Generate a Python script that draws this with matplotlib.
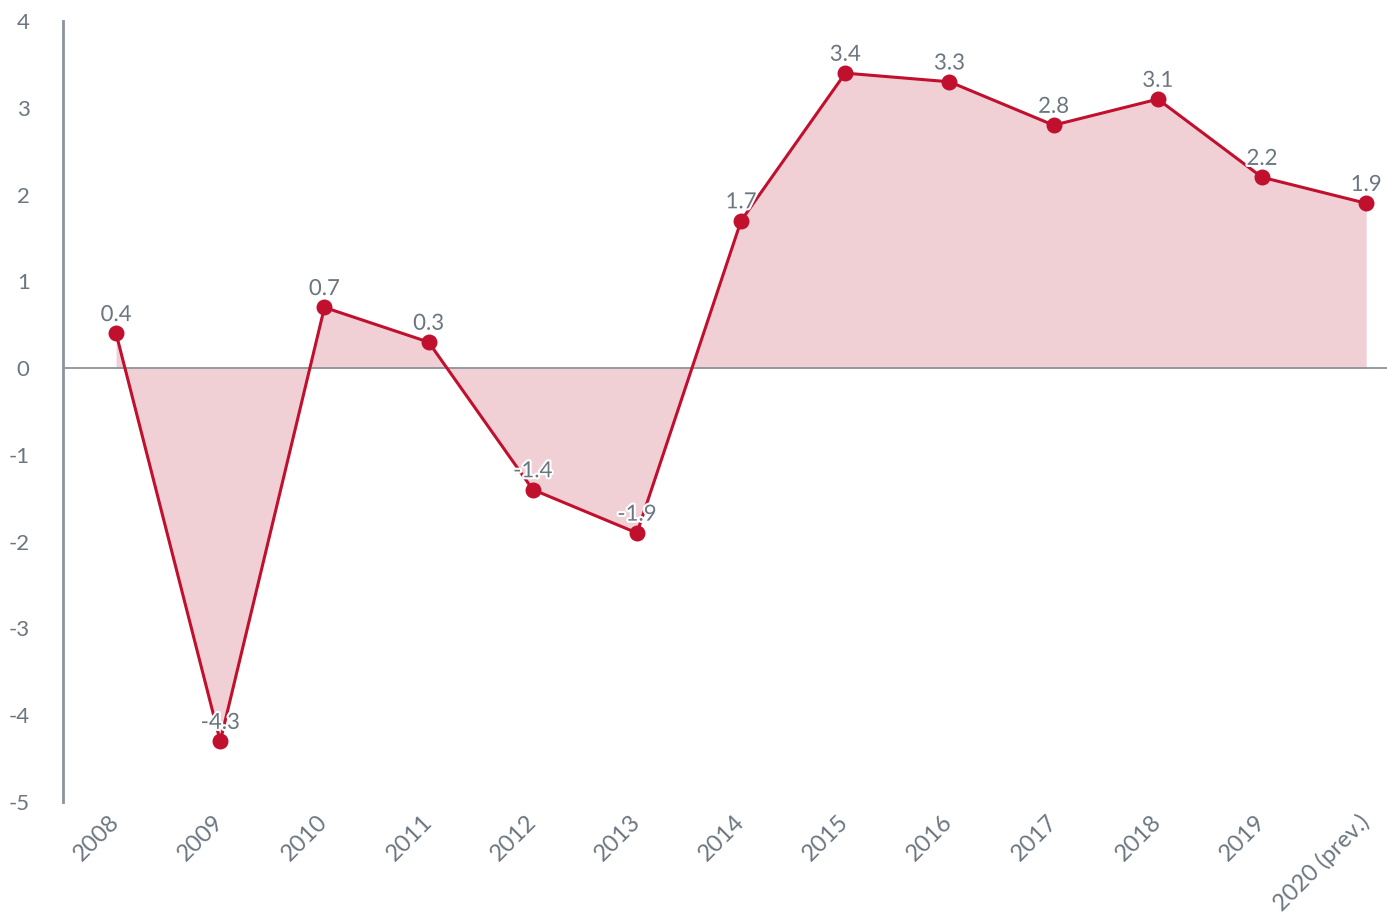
import matplotlib
matplotlib.use("Agg")
import matplotlib.pyplot as plt
import matplotlib.patheffects as pe
import numpy as np

years = ["2008", "2009", "2010", "2011", "2012", "2013", "2014",
         "2015", "2016", "2017", "2018", "2019", "2020 (prev.)"]
values = [0.4, -4.3, 0.7, 0.3, -1.4, -1.9, 1.7, 3.4, 3.3, 2.8, 3.1, 2.2, 1.9]
yticks = [-5, -4, -3, -2, -1, 0, 1, 2, 3, 4]

plt.rcParams['font.family'] = ['Lato', 'DejaVu Sans']

line_color = "#c0102e"
fill_color = "#f0cfd5"
text_color = "#6c7680"
axis_color = "#8c939b"

fig = plt.figure(figsize=(13.87, 9.16), dpi=100)
ax = fig.add_axes([0.0454, 0.1245, 0.9546, 0.8525])

x = np.arange(len(years))
ax.fill_between(x, values, 0, color=fill_color, linewidth=0, zorder=1)
ax.plot(x, values, color=line_color, linewidth=2.2, zorder=3)
ax.scatter(x, values, s=110, color=line_color, zorder=4)
ax.axhline(0, color=axis_color, linewidth=1.3, zorder=2)

for xi, v in zip(x, values):
    ax.annotate(f"{v:g}", (xi, v), xytext=(0, 6), textcoords="offset points",
                ha="center", va="bottom", fontsize=16, color=text_color, zorder=5,
                path_effects=[pe.withStroke(linewidth=3, foreground="white")])

ax.set_xlim(-0.51, 12.2)
ax.set_ylim(-5, 4)
ax.set_yticks(yticks)
ax.set_yticklabels([str(t) for t in yticks])
ax.set_xticks(x)
ax.set_xticklabels(years, rotation=45, ha="right", va="center", rotation_mode="anchor",
                   fontsize=17)

for s in ["top", "right", "bottom"]:
    ax.spines[s].set_visible(False)
ax.spines["left"].set_color(axis_color)
ax.spines["left"].set_linewidth(2)
ax.tick_params(axis="both", length=0, colors=text_color)
ax.tick_params(axis="y", pad=24, labelsize=16)
ax.tick_params(axis="x", pad=12)

fig.savefig("out.png", dpi=100, facecolor="white")
